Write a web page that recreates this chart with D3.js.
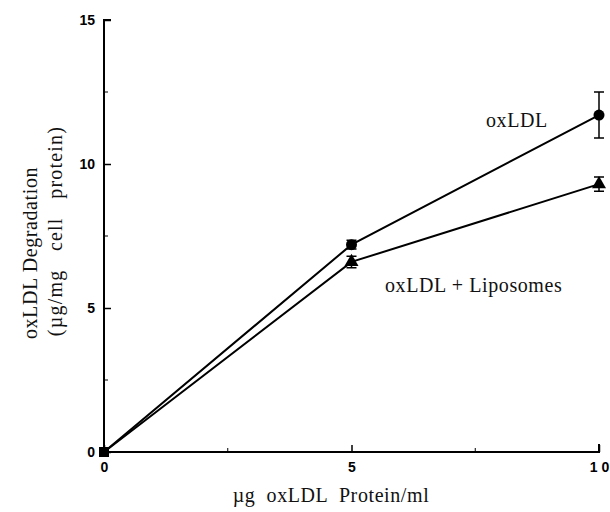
<!DOCTYPE html>
<html>
<head>
<meta charset="utf-8">
<script src="https://cdn.jsdelivr.net/npm/d3@7"></script>
<style>
  body { margin: 0; background: #fff; }
  .tick text { font-family: "Liberation Sans", Arial, sans-serif; font-weight: bold; font-size: 14px; }
  .lbl { font-family: "Liberation Serif", "Times New Roman", serif; font-size: 20px; fill: #111; letter-spacing: 0.6px; }
</style>
</head>
<body>
<svg id="chart" width="610" height="512"></svg>
<script>
// data
var doses =        [0, 5, 10]
var oxLDL =        [0, 7.2, 11.7]
var oxLDLErr =     [0, 0.15, 0.8]
var lipo =         [0, 6.6, 9.3]
var lipoErr =      [0, 0.2, 0.25]
var xTicks =       [0, 5, 10]
var xMinor =       [2.5, 7.5]
var yTicks =       [0, 5, 10, 15]
var yMinor =       [2.5, 7.5, 12.5]

var svg = d3.select('#chart')
var x = d3.scaleLinear().domain([0, 10]).range([104, 599])
var y = d3.scaleLinear().domain([0, 15]).range([452, 20])

// axes
var xAxis = svg.append('g').attr('transform', 'translate(0,' + y(0) + ')')
  .call(d3.axisBottom(x).tickValues(xTicks).tickSize(-7).tickPadding(10)
    .tickFormat(d => d == 10 ? '1 0' : d))
xAxis.append('g').selectAll('line').data(xMinor).join('line')
  .attr('x1', d => x(d)).attr('x2', d => x(d)).attr('y1', 0).attr('y2', -4)
  .attr('stroke', '#000')

var yAxis = svg.append('g').attr('transform', 'translate(' + x(0) + ',0)')
  .call(d3.axisLeft(y).tickValues(yTicks).tickSize(-7).tickPadding(9))
yAxis.append('g').selectAll('line').data(yMinor).join('line')
  .attr('y1', d => y(d)).attr('y2', d => y(d)).attr('x1', 0).attr('x2', 4)
  .attr('stroke', '#000')

svg.selectAll('.domain').attr('stroke', '#000').attr('stroke-width', 2)
svg.selectAll('.tick line').attr('stroke', '#000').attr('stroke-width', 1.5)
xAxis.select('.domain').attr('d', 'M' + x(0) + ',0H' + x(10) + 'V-8')
yAxis.select('.domain').attr('d', 'M0,' + y(0) + 'V' + y(15) + 'H7')

var line = d3.line().x((d, i) => x(doses[i])).y(d => y(d))

function series(vals, errs, shape) {
  var g = svg.append('g')
  g.append('path').datum(vals).attr('d', line)
    .attr('fill', 'none').attr('stroke', '#000').attr('stroke-width', 2)
  var pts = vals.map((v, i) => ({ x: doses[i], v: v, e: errs[i] })).filter(d => d.x > 0)
  g.selectAll('.err').data(pts.filter(d => d.e > 0)).join('path')
    .attr('d', d => {
      var a = y(d.v + d.e), b = y(d.v - d.e), cx = x(d.x)
      return 'M' + (cx - 5) + ',' + a + 'H' + (cx + 5) + 'M' + cx + ',' + a + 'V' + b +
        'M' + (cx - 5) + ',' + b + 'H' + (cx + 5)
    })
    .attr('stroke', '#000').attr('stroke-width', 1.5).attr('fill', 'none')
  g.selectAll('.pt').data(pts).join('path')
    .attr('transform', d => 'translate(' + x(d.x) + ',' + y(d.v) + ')')
    .attr('d', d3.symbol().type(shape).size(shape == d3.symbolCircle ? 95 : 85))
    .attr('fill', '#000')
}
series(oxLDL, oxLDLErr, d3.symbolCircle)
series(lipo, lipoErr, d3.symbolTriangle)

// shared origin point
svg.append('rect').attr('x', x(0) - 5).attr('y', y(0) - 5)
  .attr('width', 10).attr('height', 10).attr('fill', '#000')

// labels
svg.append('text').attr('class', 'lbl').attr('x', 486).attr('y', 127).text('oxLDL')
svg.append('text').attr('class', 'lbl').attr('x', 385).attr('y', 292).text('oxLDL + Liposomes')
svg.append('text').attr('class', 'lbl').attr('text-anchor', 'middle')
  .attr('x', 331).attr('y', 502).attr('xml:space', 'preserve').text('µg  oxLDL  Protein/ml')
svg.append('text').attr('class', 'lbl').attr('text-anchor', 'middle')
  .attr('transform', 'translate(37,253) rotate(-90)').text('oxLDL Degradation')
svg.append('text').attr('class', 'lbl').attr('text-anchor', 'middle')
  .attr('xml:space', 'preserve').style('letter-spacing', '1.2px')
  .attr('transform', 'translate(62,231) rotate(-90)').text('(µg/mg   cell   protein)')
</script>
</body>
</html>
